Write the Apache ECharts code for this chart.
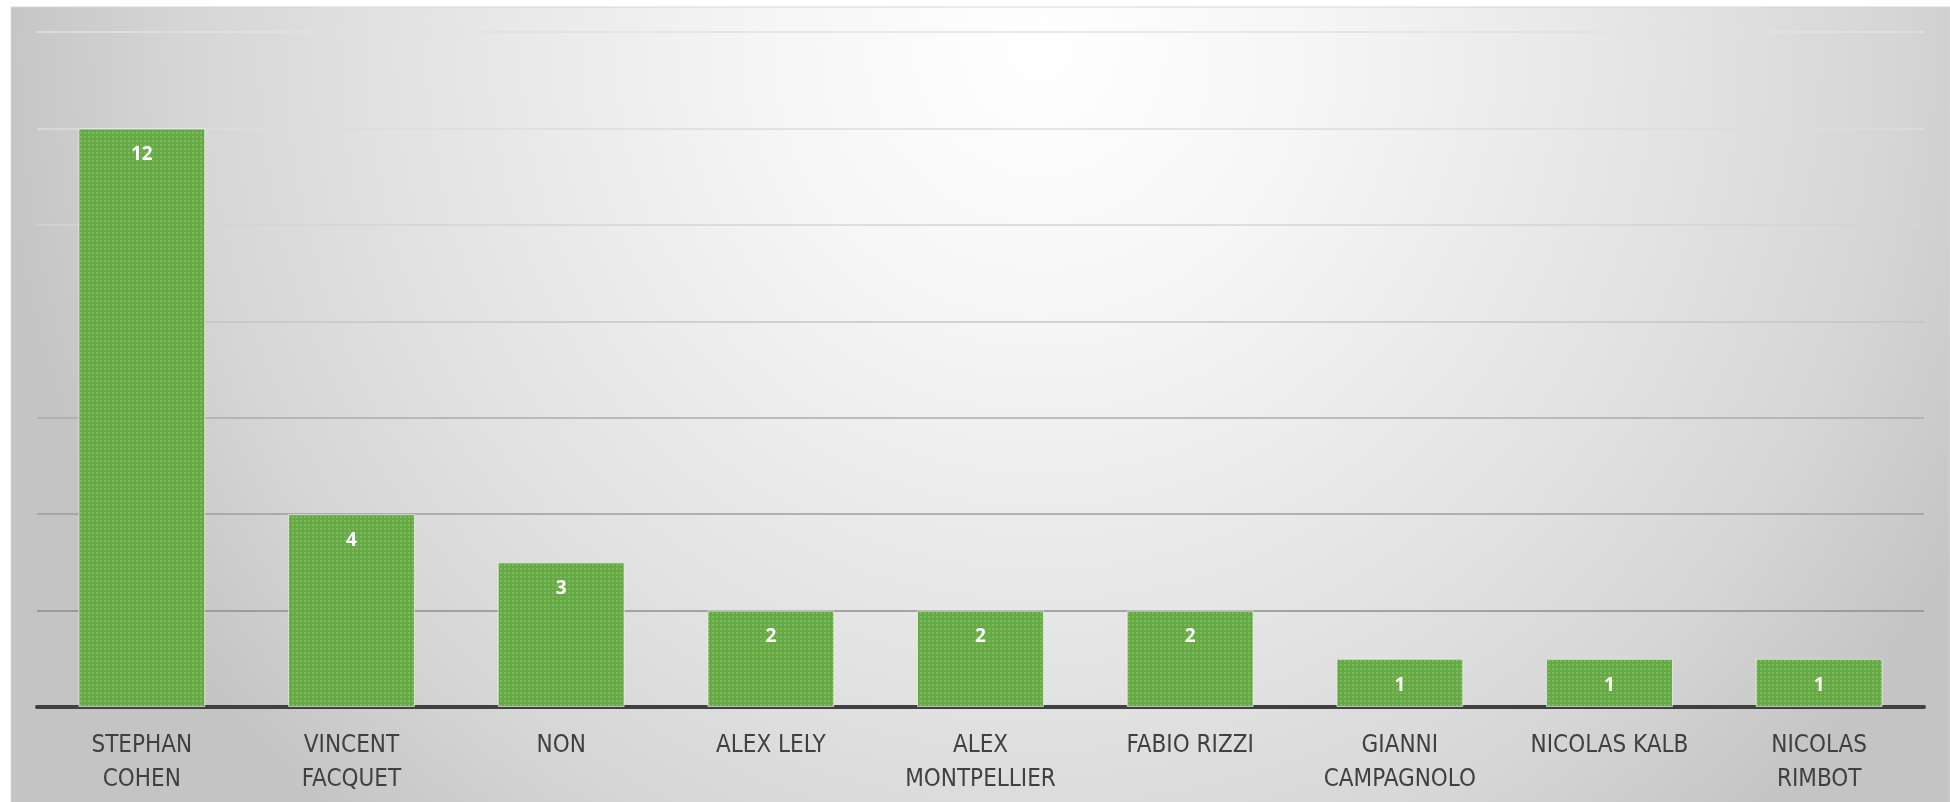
<!DOCTYPE html>
<html>
<head>
<meta charset="utf-8">
<script src="https://cdn.jsdelivr.net/npm/echarts@6/dist/echarts.min.js"></script>
<style>
  html, body { margin: 0; padding: 0; background: #fff; }
  #chartContainer { width: 1950px; height: 802px; }
</style>
</head>
<body>
<div id="chartContainer"></div>
<script>
var categories = [
  'STEPHAN\nCOHEN', 'VINCENT\nFACQUET', 'NON', 'ALEX LELY', 'ALEX\nMONTPELLIER',
  'FABIO RIZZI', 'GIANNI\nCAMPAGNOLO', 'NICOLAS KALB', 'NICOLAS\nRIMBOT'
];
var counts = [12, 4, 3, 2, 2, 2, 1, 1, 1];

// gridline shades, from the 0 line up to 14
var gridColors = ['#808080', '#8e8e8e', '#9e9e9e', '#ababab', '#c6c6c6', '#d4d4d4', '#dcdcdc', '#e2e2e2'];

var chart = echarts.init(document.getElementById('chartContainer'));

chart.setOption({
  animation: false,
  backgroundColor: '#ffffff',
  graphic: [{
    type: 'rect',
    z: -10,
    silent: true,
    shape: { x: 11, y: 7, width: 1939, height: 800 },
    style: {
      fill: {
        type: 'radial', x: 1040, y: 50, r: 1050, global: true,
        colorStops: [
          { offset: 0, color: '#ffffff' },
          { offset: 0.25, color: '#f6f6f6' },
          { offset: 0.62, color: '#e2e2e2' },
          { offset: 0.81, color: '#d6d6d6' },
          { offset: 1, color: '#c4c4c4' }
        ]
      },
      stroke: '#d6d6d6',
      lineWidth: 1
    }
  }],
  grid: { left: 37, right: 26, top: 32, bottom: 95 },
  xAxis: {
    type: 'category',
    data: categories,
    axisTick: { show: false },
    axisLine: { lineStyle: { color: '#404040', width: 4 } },
    axisLabel: {
      interval: 0,
      color: '#404040',
      fontFamily: '"Liberation Sans Narrow", "DejaVu Sans Condensed", Roboto, sans-serif',
      fontSize: 24,
      lineHeight: 34,
      margin: 22
    }
  },
  yAxis: {
    type: 'value',
    min: 0,
    max: 14,
    interval: 2,
    axisLabel: { show: false },
    axisLine: { show: false },
    axisTick: { show: false },
    splitLine: { lineStyle: { color: gridColors, width: 1.5 } }
  },
  series: [{
    type: 'bar',
    data: counts,
    barWidth: '60.5%',
    itemStyle: {
      color: '#65aa43',
      borderColor: 'rgba(255,255,255,0.35)',
      borderWidth: 1,
      decal: {
        symbol: 'rect',
        symbolSize: 1,
        dashArrayX: [2, 2],
        dashArrayY: [2, 2],
        color: 'rgba(255,255,255,0.16)'
      }
    },
    label: {
      show: true,
      position: 'insideTop',
      distance: 17,
      color: '#ffffff',
      fontFamily: '"Open Sans", sans-serif',
      fontWeight: 'bold',
      fontSize: 19
    }
  }]
});

window.addEventListener('resize', function() {
  chart.resize();
});
</script>
</body>
</html>
